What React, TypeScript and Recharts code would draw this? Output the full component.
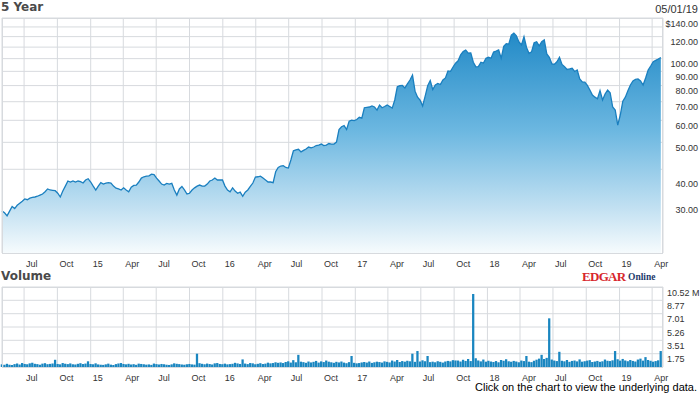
import React from 'react';
import { AreaChart, Area, BarChart, Bar, XAxis, YAxis, CartesianGrid } from 'recharts';

// weekly closes, first week starting 2014-05-01
const START = Date.UTC(2014, 4, 1);
const END = Date.UTC(2019, 4, 1);
const WEEK = 7 * 24 * 3600 * 1000;

const QUARTERS = [
  '2014-07-01', '2014-10-01', '2015-01-01', '2015-04-01', '2015-07-01', '2015-10-01',
  '2016-01-01', '2016-04-01', '2016-07-01', '2016-10-01', '2017-01-01', '2017-04-01',
  '2017-07-01', '2017-10-01', '2018-01-01', '2018-04-01', '2018-07-01', '2018-10-01',
  '2019-01-01', '2019-04-01',
];
const QUARTER_LABELS = [
  'Jul', 'Oct', '15', 'Apr', 'Jul', 'Oct', '16', 'Apr', 'Jul', 'Oct',
  '17', 'Apr', 'Jul', 'Oct', '18', 'Apr', 'Jul', 'Oct', '19', 'Apr',
];

const PRICE = [
  28.3, 27.9, 27.2, 28.3, 29.4, 28.9, 29.7, 30.2, 30.7, 31.3,
  31.1, 31.5, 31.7, 31.8, 32.0, 32.3, 32.6, 33.2, 34.0, 33.7,
  33.6, 33.5, 32.8, 31.8, 33.4, 34.8, 36.3, 36.0, 36.3, 36.0,
  36.3, 36.1, 35.7, 36.6, 37.0, 36.0, 34.8, 33.7, 34.8, 35.8,
  35.4, 35.7, 35.8, 35.7, 34.8, 34.2, 34.0, 33.7, 34.3, 33.7,
  33.2, 34.5, 35.0, 35.1, 36.0, 37.2, 37.6, 37.8, 37.9, 38.4,
  38.3, 37.2, 36.3, 35.4, 35.1, 35.6, 35.4, 35.6, 33.7, 32.3,
  34.0, 34.7, 33.7, 32.6, 32.8, 33.7, 34.3, 34.8, 35.1, 34.8,
  34.8, 35.4, 36.3, 36.6, 37.2, 36.6, 36.6, 36.6, 34.8, 33.7,
  33.2, 34.3, 33.4, 32.8, 33.1, 32.0, 33.1, 33.7, 34.7, 35.7,
  37.5, 37.6, 37.8, 37.2, 36.6, 36.0, 36.0, 35.8, 39.2, 40.6,
  41.1, 41.2, 40.6, 40.4, 43.2, 46.6, 47.0, 47.2, 46.2, 46.8,
  47.3, 48.1, 47.8, 48.1, 48.7, 48.9, 49.3, 48.7, 48.9, 49.5,
  49.3, 49.3, 50.1, 55.6, 56.9, 57.4, 55.6, 59.6, 60.1, 59.9,
  60.4, 61.5, 61.1, 66.6, 66.8, 67.0, 67.6, 67.0, 65.3, 68.1,
  66.6, 67.3, 68.1, 67.3, 66.4, 71.0, 79.2, 79.9, 80.1, 78.5,
  81.1, 83.8, 87.3, 76.4, 72.7, 70.9, 67.6, 73.3, 79.9, 83.4,
  77.4, 80.4, 81.4, 80.7, 83.8, 85.2, 90.3, 90.0, 93.3, 96.3,
  98.2, 103.1, 106.0, 107.4, 104.7, 104.9, 97.1, 93.4, 93.6, 97.1,
  96.4, 100.3, 101.1, 100.3, 105.6, 106.4, 107.4, 100.3, 110.7, 113.2,
  112.8, 121.6, 123.5, 120.7, 114.8, 112.0, 119.9, 109.7, 104.3, 105.9,
  114.0, 115.0, 111.2, 115.0, 116.7, 104.0, 101.1, 95.8, 95.4, 97.4,
  101.1, 95.3, 93.6, 91.4, 91.8, 92.3, 89.9, 91.0, 84.5, 82.5,
  82.3, 80.1, 77.1, 74.0, 72.7, 71.7, 76.7, 71.0, 74.6, 77.1,
  75.3, 67.0, 65.3, 57.7, 62.7, 70.3, 72.7, 76.7, 80.4, 83.1,
  84.2, 84.5, 83.1, 80.4, 85.2, 91.0, 94.1, 97.5, 98.6, 99.7,
  100.9,
];

// millions of shares
const VOLUME = [
  0.35, 0.28, 0.42, 0.30, 0.25, 0.38, 0.45, 0.33, 0.52, 0.40,
  0.36, 0.48, 0.55, 0.42, 0.38, 0.30, 0.44, 0.50, 0.37, 0.41,
  0.46, 0.95, 0.40, 0.35, 0.52, 0.43, 0.38, 0.47, 0.36, 0.33,
  0.42, 0.50, 0.39, 0.45, 0.75, 0.40, 0.36, 0.48, 0.34, 0.30,
  0.28, 0.35, 0.44, 0.31, 0.26, 0.38, 0.46, 0.52, 0.40, 0.35,
  0.42, 0.33, 0.37, 0.29, 0.44, 0.40, 0.36, 0.31, 0.34, 0.28,
  0.45, 0.38, 0.33, 0.40, 0.36, 0.30, 0.27, 0.35, 0.48, 0.42,
  0.38, 0.33, 0.30, 0.36, 0.40, 0.34, 0.31, 1.75, 0.50, 0.42,
  0.36, 0.45, 0.39, 0.33, 0.48, 0.52, 0.40, 0.37, 0.44, 0.35,
  0.38, 0.42, 0.55, 0.47, 0.40, 1.00, 0.45, 0.38, 0.52, 0.48,
  0.36, 0.42, 0.50, 0.39, 0.44, 0.57, 0.48, 0.52, 0.62, 0.55,
  0.60, 0.52, 0.66, 0.75, 0.58, 0.90, 0.62, 1.60, 0.70, 0.64,
  0.55, 0.72, 0.60, 0.68, 0.80, 0.58, 0.74, 0.65, 0.85, 0.70,
  0.62, 0.55, 0.68, 0.60, 0.72, 0.58, 0.50, 0.64, 1.45, 0.55,
  0.48, 0.52, 0.60, 0.66, 0.58, 0.72, 0.54, 0.62, 0.70, 0.65,
  0.58, 0.74, 0.68, 0.60, 0.85, 0.72, 0.92, 0.66, 0.78, 0.70,
  0.82, 0.75, 1.75, 0.68, 2.10, 0.72, 0.88, 0.76, 1.45, 0.64,
  0.70, 0.62, 0.76, 0.68, 0.58, 0.72, 0.80, 0.74, 0.90, 0.86,
  0.85, 0.72, 0.95, 0.80, 1.05, 0.78, 9.60, 1.15, 0.86, 0.74,
  0.98, 0.70, 0.82, 0.72, 0.66, 0.78, 0.62, 0.92, 0.82, 1.02,
  0.75, 0.68, 0.80, 0.72, 0.62, 0.85, 0.78, 1.45, 0.70, 0.64,
  0.82, 0.96, 1.10, 1.60, 1.05, 1.20, 6.40, 0.98, 0.85, 0.78,
  2.00, 0.82, 0.75, 0.92, 0.68, 0.80, 0.85, 0.74, 1.00, 0.70,
  0.76, 0.84, 0.90, 0.66, 0.72, 0.80, 0.68, 0.75, 0.98, 0.82,
  0.78, 0.88, 2.10, 1.02, 0.84, 1.06, 0.86, 0.76, 0.92, 0.80,
  0.72, 0.98, 1.10, 0.84, 1.30, 0.92, 0.82, 0.70, 0.78, 0.88,
  2.10,
];

const PRICE_TICKS = [30, 40, 50, 60, 70, 80, 90, 100, 120, 140];
const PRICE_GRID = [40, 50, 60, 70, 80, 90, 100, 110, 120, 130, 140];
const VOLUME_TICKS = [0, 1.75, 3.51, 5.26, 7.01, 8.77, 10.52];

const QTR_TIMES = QUARTERS.map(q => Date.parse(q));
const priceData = PRICE.map((p, i) => ({ t: START + i * WEEK, price: p }));
const volumeData = VOLUME.map((v, i) => ({ t: START + i * WEEK, vol: v }));

const GRID = '#d7dade';
const FONT = '"Liberation Sans", Arial, sans-serif';

const quarterTick = (baseY: number) => (props: any) => {
  const idx = QTR_TIMES.indexOf(props.payload.value);
  return (
    <text x={props.x + 2} y={baseY} fontSize={9} fontFamily={FONT} fill="#333" textAnchor="start">
      {QUARTER_LABELS[idx]}
    </text>
  );
};

const PriceTick = (props: any) => {
  const v = props.payload.value;
  const label = v === 140 ? '$140.00' : v.toFixed(2);
  const nudge = v === 40 ? 9 : 0;
  return (
    <text x={698} y={props.y + 8.5 + nudge} fontSize={9} fontFamily={FONT} fill="#333" textAnchor="end">
      {label}
    </text>
  );
};

const VolumeTick = (props: any) => {
  const v = props.payload.value;
  if (v === 0) return <g />;
  const label = v === 10.52 ? '10.52 M' : v.toFixed(2);
  return (
    <text x={667} y={props.y + 8.5} fontSize={9} fontFamily={FONT} fill="#333" textAnchor="start">
      {label}
    </text>
  );
};

const frame = (top: number, height: number): React.CSSProperties => ({
  position: 'absolute', left: 2, top, width: 661, height,
  border: `1px solid ${GRID}`, boxSizing: 'border-box', pointerEvents: 'none',
});

export default function App() {
  return (
    <div style={{ position: 'absolute', left: 0, top: 0, width: 700, height: 395, background: '#fff', overflow: 'hidden' }}>
      <div style={{ position: 'absolute', left: 1, top: 0, font: 'bold 12px "DejaVu Sans", sans-serif', color: '#4a4a4a' }}>5 Year</div>
      <div style={{ position: 'absolute', right: 2, top: 3, font: `11px ${FONT}`, color: '#333' }}>05/01/19</div>

      <div style={{ position: 'absolute', left: 0, top: 0 }}>
        <AreaChart width={700} height={270} data={priceData} margin={{ top: 18, right: 0, left: 2, bottom: 0 }}>
          <defs>
            <linearGradient id="priceFill" x1="0" y1="0" x2="0" y2="1">
              <stop offset="0%" stopColor="#228ac7" />
              <stop offset="45%" stopColor="#6db8e1" />
              <stop offset="80%" stopColor="#c3e1f2" />
              <stop offset="100%" stopColor="#f6fbfd" />
            </linearGradient>
          </defs>
          <CartesianGrid stroke={GRID} horizontalValues={PRICE_GRID} />
          <XAxis dataKey="t" type="number" domain={[START, END]} ticks={QTR_TIMES} interval={0}
            height={17} axisLine={false} tickLine={false} tick={quarterTick(266.5)} />
          <YAxis orientation="right" scale="log" domain={[20, 140]} ticks={PRICE_TICKS} interval={0}
            width={37} axisLine={false} tickLine={false} tick={PriceTick} allowDataOverflow />
          <Area type="linear" dataKey="price" stroke="#1a7fbf" strokeWidth={1.3}
            fill="url(#priceFill)" fillOpacity={1} isAnimationActive={false} dot={false} />
        </AreaChart>
      </div>
      <div style={frame(18, 236)} />

      <div style={{ position: 'absolute', left: 1, top: 269, font: 'bold 12px "DejaVu Sans", sans-serif', color: '#4a4a4a' }}>Volume</div>
      <div style={{ position: 'absolute', left: 582, top: 269, height: 10, lineHeight: '10px', font: 'bold 13px "Liberation Serif", serif', color: '#d7262c', letterSpacing: -0.7 }}>EDGAR</div>
      <div style={{ position: 'absolute', left: 628, top: 272, height: 8, lineHeight: '8px', font: 'bold 9.5px "Liberation Serif", serif', color: '#1c3a6b' }}>Online</div>

      <div style={{ position: 'absolute', left: 0, top: 280 }}>
        <BarChart width={700} height={115} data={volumeData} margin={{ top: 7, right: 0, left: 2, bottom: 0 }}>
          <CartesianGrid stroke={GRID} />
          <XAxis dataKey="t" type="number" domain={[START, END]} ticks={QTR_TIMES} interval={0}
            height={28} axisLine={false} tickLine={false} tick={quarterTick(100.5)} />
          <YAxis orientation="right" domain={[0, 10.52]} ticks={VOLUME_TICKS} interval={0}
            width={37} axisLine={false} tickLine={false} tick={VolumeTick} />
          <Bar dataKey="vol" fill="#1a86c0" barSize={3} isAnimationActive={false} />
        </BarChart>
      </div>
      <div style={frame(287, 81)} />

      <div style={{ position: 'absolute', right: 3, top: 381, font: `11px ${FONT}`, color: '#000' }}>
        Click on the chart to view the underlying data.
      </div>
    </div>
  );
}
